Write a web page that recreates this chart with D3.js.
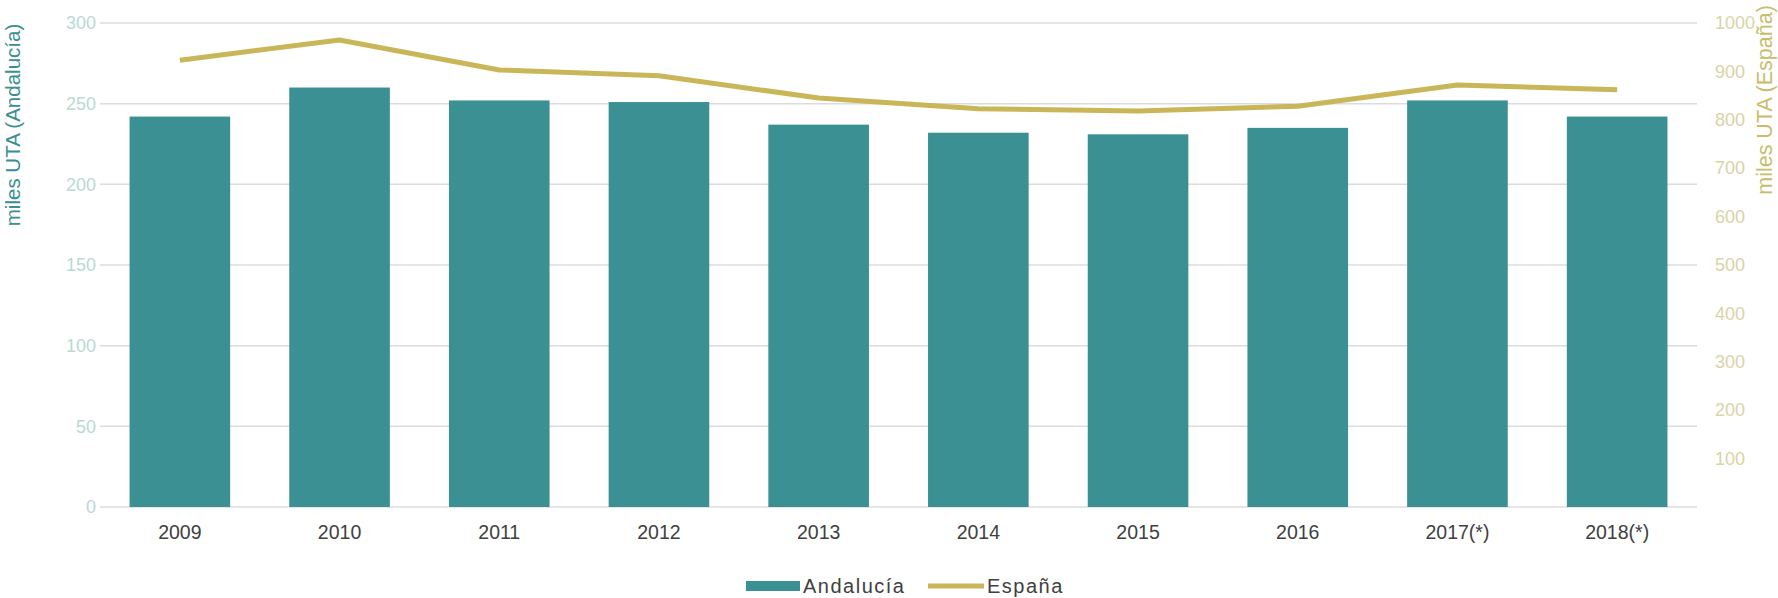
<!DOCTYPE html>
<html>
<head>
<meta charset="utf-8">
<script src="https://cdn.jsdelivr.net/npm/d3@7/dist/d3.min.js"></script>
<style>
  body { margin: 0; padding: 0; background: #ffffff; }
  svg { display: block; font-family: "Liberation Sans", Arial, sans-serif; }
</style>
</head>
<body>
<div id="chart"></div>
<script>
// data
var years = ["2009", "2010", "2011", "2012", "2013", "2014", "2015", "2016", "2017(*)", "2018(*)"];
var andalucia = [242, 260, 252, 251, 237, 232, 231, 235, 252, 242];
var espana = [923, 965, 903, 891, 845, 823, 818, 828, 872, 862];
var leftTicks = [0, 50, 100, 150, 200, 250, 300];
var rightTicks = [0, 100, 200, 300, 400, 500, 600, 700, 800, 900, 1000];

var width = 1778, height = 598;
var margin = {top: 23, right: 81, bottom: 91, left: 100};

var svg = d3.select("#chart").append("svg")
    .attr("width", width)
    .attr("height", height);

var x = d3.scaleBand()
    .domain(years)
    .range([margin.left, width - margin.right])
    .paddingInner(0.37)
    .paddingOuter(0.185);

var yLeft = d3.scaleLinear().domain([0, 300]).range([height - margin.bottom, margin.top]);
var yRight = d3.scaleLinear().domain([0, 1000]).range([height - margin.bottom, margin.top]);

// gridlines
svg.append("g")
    .selectAll("line")
    .data(leftTicks)
    .join("line")
    .attr("x1", margin.left)
    .attr("x2", width - margin.right)
    .attr("y1", function(d) { return yLeft(d); })
    .attr("y2", function(d) { return yLeft(d); })
    .attr("stroke", "#dcdcdc")
    .attr("stroke-width", 1.5);

// left axis labels
var leftAxis = d3.axisLeft(yLeft).tickValues(leftTicks).tickSize(0).tickPadding(4);
svg.append("g")
    .attr("transform", "translate(" + margin.left + ",0)")
    .call(leftAxis)
    .call(function(g) { g.select(".domain").remove(); })
    .selectAll("text")
    .attr("fill", "#b9d9d3")
    .attr("font-size", 18);

// right axis labels
var rightAxis = d3.axisRight(yRight).tickValues(rightTicks)
    .tickFormat(function(d) { return d === 0 ? "" : d; })
    .tickSize(0).tickPadding(18);
svg.append("g")
    .attr("transform", "translate(" + (width - margin.right) + ",0)")
    .call(rightAxis)
    .call(function(g) { g.select(".domain").remove(); })
    .selectAll("text")
    .attr("fill", "#d9d4a6")
    .attr("font-size", 18);

// bars
svg.append("g")
    .selectAll("rect")
    .data(andalucia)
    .join("rect")
    .attr("x", function(d, i) { return x(years[i]); })
    .attr("y", function(d) { return yLeft(d); })
    .attr("width", x.bandwidth())
    .attr("height", function(d) { return yLeft(0) - yLeft(d); })
    .attr("fill", "#3a9093");

// line
var line = d3.line()
    .x(function(d, i) { return x(years[i]) + x.bandwidth() / 2; })
    .y(function(d) { return yRight(d); });

svg.append("path")
    .datum(espana)
    .attr("d", line)
    .attr("fill", "none")
    .attr("stroke", "#c9b658")
    .attr("stroke-width", 5)
    .attr("stroke-linejoin", "round");

// category labels
var xAxis = d3.axisBottom(x).tickSize(0).tickPadding(18);
svg.append("g")
    .attr("transform", "translate(0," + yLeft(0) + ")")
    .call(xAxis)
    .call(function(g) { g.select(".domain").remove(); })
    .selectAll("text")
    .attr("fill", "#404040")
    .attr("font-size", 19.5);

// axis titles
svg.append("text")
    .attr("transform", "translate(20,125) rotate(-90)")
    .attr("text-anchor", "middle")
    .attr("fill", "#3a8f90")
    .attr("font-size", 20.5)
    .text("miles UTA (Andalucía)");

svg.append("text")
    .attr("transform", "translate(1772,100) rotate(-90)")
    .attr("text-anchor", "middle")
    .attr("fill", "#c9bd6a")
    .attr("font-size", 21.5)
    .text("miles UTA (España)");

// legend
var legend = svg.append("g").attr("transform", "translate(0,586)");
legend.append("rect")
    .attr("x", 746).attr("y", -5)
    .attr("width", 54).attr("height", 10)
    .attr("fill", "#3a9093");
legend.append("text")
    .attr("x", 803).attr("y", 0)
    .attr("dy", "0.35em")
    .attr("fill", "#404040")
    .attr("font-size", 20)
    .attr("letter-spacing", 1.5)
    .text("Andalucía");
legend.append("line")
    .attr("x1", 928).attr("x2", 984)
    .attr("y1", 0).attr("y2", 0)
    .attr("stroke", "#c9b658")
    .attr("stroke-width", 5);
legend.append("text")
    .attr("x", 987).attr("y", 0)
    .attr("dy", "0.35em")
    .attr("fill", "#404040")
    .attr("font-size", 20)
    .attr("letter-spacing", 1.5)
    .text("España");
</script>
</body>
</html>
